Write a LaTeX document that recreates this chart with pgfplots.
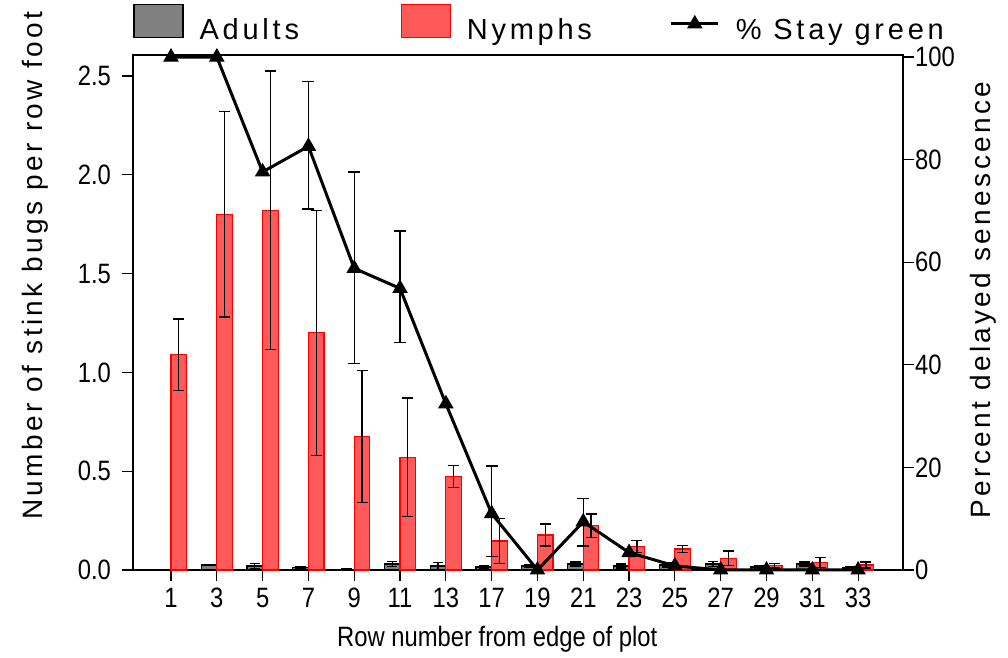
\documentclass[border=0pt]{standalone}
\usepackage{fontspec}
\setmainfont{Liberation Sans}
\newfontfamily\condfont[FakeStretch=0.85]{Liberation Sans}
\newfontfamily\spacedfont[LetterSpace=12]{Liberation Sans}
\newfontfamily\legfont[LetterSpace=13]{Liberation Sans}
\usepackage{pgfplots}
\usepackage{pgfplotstable}
\pgfplotsset{compat=1.18}
\definecolor{nymphred}{RGB}{255,90,90}
\definecolor{adultgray}{RGB}{128,128,128}

% bug counts per row foot (mean and error)
\pgfplotstableread{
x lab adult aerr nymph nerr
0  1  0.000 0.000 1.090 0.180
1  3  0.025 0.004 1.800 0.520
2  5  0.020 0.012 1.820 0.705
3  7  0.012 0.004 1.200 0.620
4  9  0.004 0.002 0.675 0.335
5  11 0.030 0.012 0.570 0.300
6  13 0.020 0.018 0.472 0.055
7  17 0.015 0.006 0.147 0.115
8  19 0.020 0.008 0.177 0.056
9  21 0.030 0.010 0.224 0.059
10 23 0.020 0.010 0.118 0.030
11 25 0.025 0.010 0.106 0.017
12 27 0.030 0.012 0.059 0.037
13 29 0.015 0.006 0.022 0.012
14 31 0.030 0.010 0.037 0.025
15 33 0.010 0.005 0.025 0.015
}\bugs

% percent stay green
\pgfplotstableread{
x pct
0  100
1  100
2  77.6
3  82.6
4  58.8
5  54.9
6  32.4
7  11.0
8  0
9  9.4
10 3.4
11 0.8
12 0
13 0
14 0
15 0
}\green

\pgfplotstableread{
x pct ep em
3 82.6 12.6 12.2
4 58.8 18.8 18.5
5 54.9 11.2 10.6
7 11.0 9.3 8.4
9 9.4 4.6 4.7
}\greenerr

\pgfplotsset{
  base/.style={
    scale only axis, width=385pt, height=257.5pt,
    xmin=-0.83, xmax=15.98, clip=false,
    tick align=outside, major tick length=5.5pt,
    axis line style={line width=0.7pt},
    tick style={line width=0.6pt, black},
    /pgf/number format/assume math mode=true,
    ticklabel style={font=\condfont\fontsize{14}{16}\selectfont},
  },
  errs/.style={error bars/.cd, y dir=both, y explicit,
    error bar style={black, line width=0.65pt},
    error mark options={black, line width=0.65pt, mark size=#1, rotate=90}},
  box legend/.style={legend image code/.code={
    \draw[##1] (0pt,-3.5pt) rectangle (24.5pt,13pt);}},
  tri legend/.style={legend image code/.code={
    \draw[mark repeat=2, mark phase=2, ##1]
      plot coordinates {(0pt,3.35pt) (11.75pt,3.35pt) (23.5pt,3.35pt)};}},
}

\begin{document}
\begin{tikzpicture}
\begin{axis}[base,
  ymin=0, ymax=2.606,
  xtick={0,...,15},
  xticklabels={1,3,5,7,9,11,13,17,19,21,23,25,27,29,31,33},
  xtick pos=bottom, ytick pos=left,
  ytick={0,0.5,...,2.5},
  yticklabel style={xshift=-2pt, /pgf/number format/fixed,
    /pgf/number format/fixed zerofill, /pgf/number format/precision=1},
  xlabel={Row number from edge of plot},
  xlabel style={font=\condfont\fontsize{14}{16}\selectfont, inner sep=0pt,
    at={(rel axis cs:0.473,-0.1087)}, anchor=north},
  ylabel={Number of stink bugs per row foot},
  ylabel style={font=\spacedfont\fontsize{14}{16}\selectfont, inner sep=0pt,
    at={(rel axis cs:-0.109,0.097)}, anchor=south west},
]
\addplot[ybar, bar width=0.34, bar shift=0pt, fill=adultgray, draw=black,
  line width=0.6pt, errs=2.6pt]
  table[x expr=\thisrow{x}-0.17, y=adult, y error=aerr]{\bugs};
\addplot[ybar, bar width=0.34, bar shift=0pt, fill=nymphred, draw=red,
  line width=0.6pt, errs=2.75pt]
  table[x expr=\thisrow{x}+0.17, y=nymph, y error=nerr]{\bugs};
\end{axis}

\begin{axis}[base,
  ymin=0, ymax=100.4,
  axis y line*=right, axis x line=none,
  ytick={0,20,...,100}, ytick pos=right,
  yticklabel style={xshift=-3pt},
  ylabel={Percent delayed senescence},
  ylabel style={font=\spacedfont\fontsize{14}{16}\selectfont, inner sep=0pt,
    at={(rel axis cs:1.0865,0.524)}, anchor=north, rotate=0},
  legend columns=3,
  legend style={draw=none, fill=none, inner sep=0pt,
    at={(rel axis cs:0,1)}, anchor=south west, yshift=6pt,
    font=\legfont\fontsize{14.5}{17}\selectfont,
    nodes={inner sep=0pt},
    /tikz/every odd column/.append style={column sep=8pt}},
  legend cell align=left,
]
\addlegendimage{fill=adultgray, draw=black, line width=0.6pt, box legend}
\addlegendentry{\makebox[100.5pt][l]{Adults}}
\addlegendimage{fill=nymphred, draw=red, line width=0.6pt, box legend}
\addlegendentry{\makebox[101.5pt][l]{Nymphs}}
\addplot[forget plot, draw=none, mark=none, errs=3pt]
  table[x=x, y=pct, y error plus=ep, y error minus=em]{\greenerr};
\addplot[black, line width=1.5pt, mark=triangle*, mark size=4pt,
  mark options={solid, line width=0.5pt}, tri legend]
  table[x=x, y=pct]{\green};
\addlegendentry{\% Stay green}
\end{axis}
\pgfresetboundingbox
\path[use as bounding box] (-66.5pt,-44pt) rectangle (437.5pt,285pt);
\end{tikzpicture}
\end{document}
